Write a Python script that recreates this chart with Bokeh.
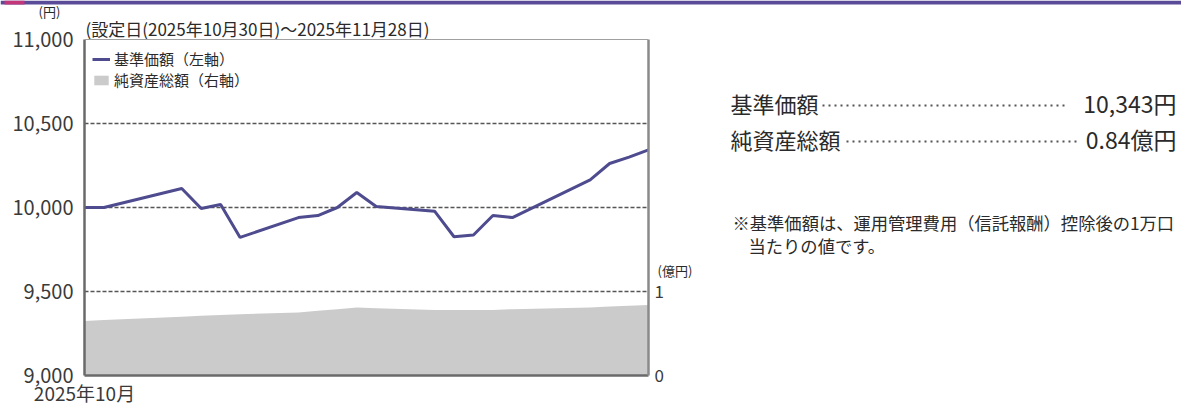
import pandas as pd
from bokeh.plotting import figure
from bokeh.layouts import row, column
from bokeh.models import (Range1d, LinearAxis, FixedTicker, NumeralTickFormatter,
                          Legend, LegendItem, ColumnDataSource, Span)
from bokeh.core.properties import value
from bokeh.embed import file_html
from bokeh.resources import INLINE

# ---- data ----
dates = ["2025-10-30", "2025-10-31", "2025-11-04", "2025-11-05", "2025-11-06",
         "2025-11-07", "2025-11-10", "2025-11-11", "2025-11-12", "2025-11-13",
         "2025-11-14", "2025-11-17", "2025-11-18", "2025-11-19", "2025-11-20",
         "2025-11-21", "2025-11-25", "2025-11-26", "2025-11-27", "2025-11-28"]
nav = [10000, 10000, 10113, 9994, 10018, 9822, 9940, 9952, 10000, 10089,
       10006, 9978, 9826, 9836, 9952, 9940, 10165, 10262, 10300, 10343]
assets = [0.65, 0.66, 0.70, 0.71, 0.72, 0.73, 0.75, 0.77, 0.79, 0.81,
          0.80, 0.78, 0.78, 0.78, 0.78, 0.79, 0.81, 0.82, 0.83, 0.84]
left_ticks = [9000, 9500, 10000, 10500, 11000]
grid_ticks = [9500, 10000, 10500]
right_ticks = [0, 1]
x_label = "2025年10月"
period_text = "(設定日(2025年10月30日)～2025年11月28日)"
yen_unit = "(円)"
oku_unit = "(億円)"
nav_name = "基準価額（左軸）"
assets_name = "純資産総額（右軸）"
summary_names = ["基準価額", "純資産総額"]
summary_values = ["10,343円", "0.84億円"]
note_lines = ["※基準価額は、運用管理費用（信託報酬）控除後の1万口", "当たりの値です。"]

d = pd.to_datetime(dates)
day = [(x - d[0]).days for x in d]
n_days = (pd.Timestamp("2025-11-28") - d[0]).days

src = ColumnDataSource(dict(day=day, nav=nav, assets=assets, zero=[0] * len(day)))

FONT = "Noto Sans CJK JP"
TXT = "#2a2a2a"

# page geometry (px)
TOP_H = 20                          # header strip height
FL, FR, FT, FB = 84, 648, 39, 375   # plot box
CW = 700                            # chart figure width
CH = 408 - TOP_H                    # chart / side panel height
YLO, YHI = 9000, 11000
UPP = (YHI - YLO) / (FB - FT)       # left-axis units per pixel
Y_TOP = YHI + (FT - TOP_H) * UPP    # frame reaches up to the header strip
A_PER = 1 / 84.0                    # right-axis units per pixel

def fx(px):
    return (px - FL) / (FR - FL) * n_days

def fy(py):
    return YHI - (py - FT) * UPP

# ---------- header strip (page-pixel coordinates) ----------
top = figure(width=1181, height=TOP_H, x_range=Range1d(0, 1181), y_range=Range1d(TOP_H, 0),
             x_axis_type=None, y_axis_type=None, output_backend="svg",
             toolbar_location=None, min_border=0)
top.title.visible = False
top.grid.visible = False
top.outline_line_color = None
top.quad(left=[0], right=[1181], top=[0], bottom=[4], fill_color="#594b98", line_color=None)
top.quad(left=[4], right=[24], top=[0], bottom=[4], fill_color="#c2377a", line_color=None)
top.text(x=[49], y=[10.5], text=[yen_unit], text_font=value(FONT),
         text_font_size=value("13px"), text_align="center", text_baseline="middle",
         text_color=TXT)

# ---------- chart ----------
p = figure(width=CW, height=CH, x_range=Range1d(0, n_days), y_range=Range1d(YLO, Y_TOP),
           output_backend="svg", toolbar_location=None,
           min_border_left=FL, min_border_top=0, min_border_right=CW - FR,
           min_border_bottom=408 - FB)
p.title.visible = False
p.outline_line_color = None
p.extra_y_ranges = {"assets": Range1d(0, (FB - TOP_H) * A_PER)}

area = p.varea(x="day", y1="zero", y2="assets", source=src, y_range_name="assets",
               fill_color="#cbcbcb")
line = p.line(x="day", y="nav", source=src, line_color="#4e4b8e", line_width=3)

p.xgrid.visible = False
p.ygrid.ticker = FixedTicker(ticks=grid_ticks)
p.ygrid.grid_line_color = "#555555"
p.ygrid.grid_line_dash = "4 2"
p.ygrid.grid_line_width = 1.3
p.add_layout(Span(location=YHI, dimension="width", line_color="#a0a0a0", line_width=1))

def style_axis(ax, size, standoff, color="#6a6a6a"):
    ax.major_tick_line_color = None
    ax.minor_tick_line_color = None
    ax.major_tick_out = 0
    ax.major_tick_in = 0
    ax.minor_tick_out = 0
    ax.minor_tick_in = 0
    ax.axis_line_color = color
    ax.axis_line_width = 2.5
    ax.major_label_text_font = FONT
    ax.major_label_text_font_size = size
    ax.major_label_text_color = "#3a3a3a"
    ax.major_label_standoff = standoff

ya = p.yaxis[0]
ya.ticker = FixedTicker(ticks=left_ticks)
ya.formatter = NumeralTickFormatter(format="0,0")
ya.bounds = (YLO, YHI)
style_axis(ya, "20px", 11)

xa = p.xaxis[0]
xa.ticker = FixedTicker(ticks=[0])
xa.major_label_overrides = {0: x_label}
style_axis(xa, "19px", 3)

ra = LinearAxis(y_range_name="assets", ticker=FixedTicker(ticks=right_ticks), bounds=(0, 4))
style_axis(ra, "17px", 6, color="#8a8a8a")
p.add_layout(ra, "right")

# unit of the right axis, just above the "1" tick
ru = LinearAxis(y_range_name="assets", ticker=FixedTicker(ticks=[1.25]))
ru.major_label_overrides = {1.25: oku_unit}
style_axis(ru, "13px", -9)
ru.axis_line_color = None
ru.major_label_text_color = TXT
p.add_layout(ru, "right")

# period caption above the plot box (inside the extended frame)
p.text(x=[fx(85)], y=[fy(27.5)], text=[period_text], text_font=value(FONT),
       text_font_size=value("17px"), text_align="left", text_baseline="middle",
       text_color=TXT)

legend = Legend(items=[LegendItem(label=nav_name, renderers=[line]),
                       LegendItem(label=assets_name, renderers=[area])],
                location=(0, 277), margin=0, padding=8, spacing=0,
                glyph_width=18, glyph_height=12, label_standoff=4,
                label_text_font=FONT, label_text_font_size="15px",
                label_text_color=TXT, background_fill_alpha=0,
                border_line_alpha=0, label_height=18)
p.add_layout(legend)

# ---------- right text panel (page-pixel coordinates) ----------
rf = figure(width=1181 - CW, height=CH, x_range=Range1d(CW, 1181), y_range=Range1d(FB, TOP_H),
            x_axis_type=None, y_axis_type=None, output_backend="svg",
            toolbar_location=None, min_border_left=0, min_border_right=0,
            min_border_top=0, min_border_bottom=408 - FB)
rf.title.visible = False
rf.grid.visible = False
rf.outline_line_color = None

rf.text(x=[730, 730], y=[102, 138], text=summary_names, text_font=value(FONT),
        text_font_size=value("22px"), text_baseline="middle", text_align="left",
        text_color=TXT)
rf.text(x=[1176, 1176], y=[102, 138], text=summary_values, text_font=value(FONT),
        text_font_size=value("23px"), text_baseline="middle", text_align="right",
        text_color=TXT)
rf.segment(x0=[822, 846], y0=[105, 141], x1=[1068, 1076], y1=[105, 141],
           line_color="#555555", line_width=1.8, line_dash="2 4")
rf.text(x=[732, 748], y=[222, 245], text=note_lines, text_font=value(FONT),
        text_font_size=value("17.3px"), text_baseline="middle", text_align="left",
        text_color=TXT)

layout = column(top, row(p, rf, spacing=0), spacing=0)
open("out.html", "w").write(file_html(layout, INLINE))
